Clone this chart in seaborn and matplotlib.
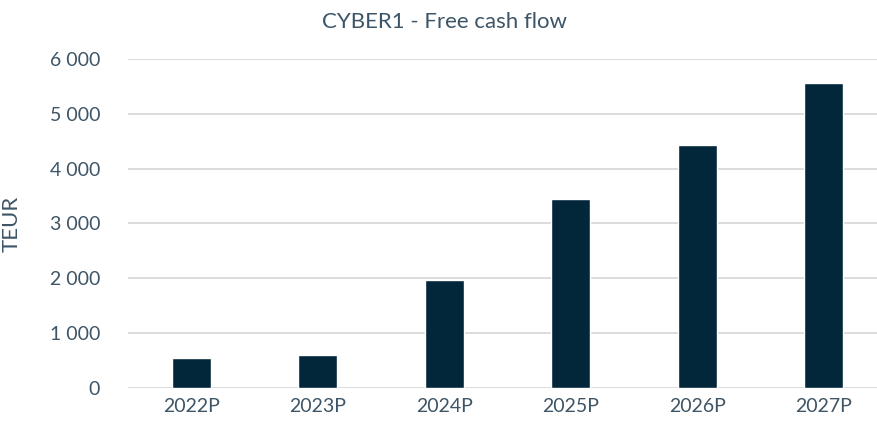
import matplotlib
matplotlib.use("Agg")
import matplotlib.pyplot as plt
import matplotlib.ticker as mticker
import seaborn as sns
import pandas as pd

# data
years = ["2022P", "2023P", "2024P", "2025P", "2026P", "2027P"]
fcf = [545, 600, 1962, 3455, 4430, 5565]

sns.set_theme(style="white")
plt.rcParams["font.family"] = ["Lato", "DejaVu Sans"]

text_col = "#3d5566"
bar_col = "#02273b"

df = pd.DataFrame({"year": years, "fcf": fcf})

fig = plt.figure(figsize=(8.78, 4.21), dpi=100)
ax = fig.add_axes([128 / 878, 33 / 421, 759 / 878, 329 / 421])

sns.barplot(data=df, x="year", y="fcf", color=bar_col, width=0.31,
            saturation=1, ax=ax, zorder=3)

ax.set_xlim(-0.5, 5.5)
ax.set_ylim(0, 6000)
ax.set_yticks(range(0, 6001, 1000))
ax.yaxis.set_major_formatter(
    mticker.FuncFormatter(lambda v, p: f"{int(v):,}".replace(",", " ")))
ax.grid(axis="y", color="#d9d9d9", linewidth=1.3, zorder=0)
ax.grid(axis="x", visible=False)
for s in ax.spines.values():
    s.set_visible(False)

ax.tick_params(axis="both", length=0, labelsize=14, colors=text_col)
ax.tick_params(axis="y", pad=20)
ax.tick_params(axis="x", pad=7)
ax.set_xlabel("")
ax.set_ylabel("TEUR", fontsize=16, color=text_col)
ax.yaxis.set_label_coords(-106 / 759, 0.5)

fig.text(444 / 878, 1 - 22 / 421, "CYBER1 - Free cash flow", ha="center",
         va="center", fontsize=16, color=text_col)

fig.savefig("out.png", dpi=100)
